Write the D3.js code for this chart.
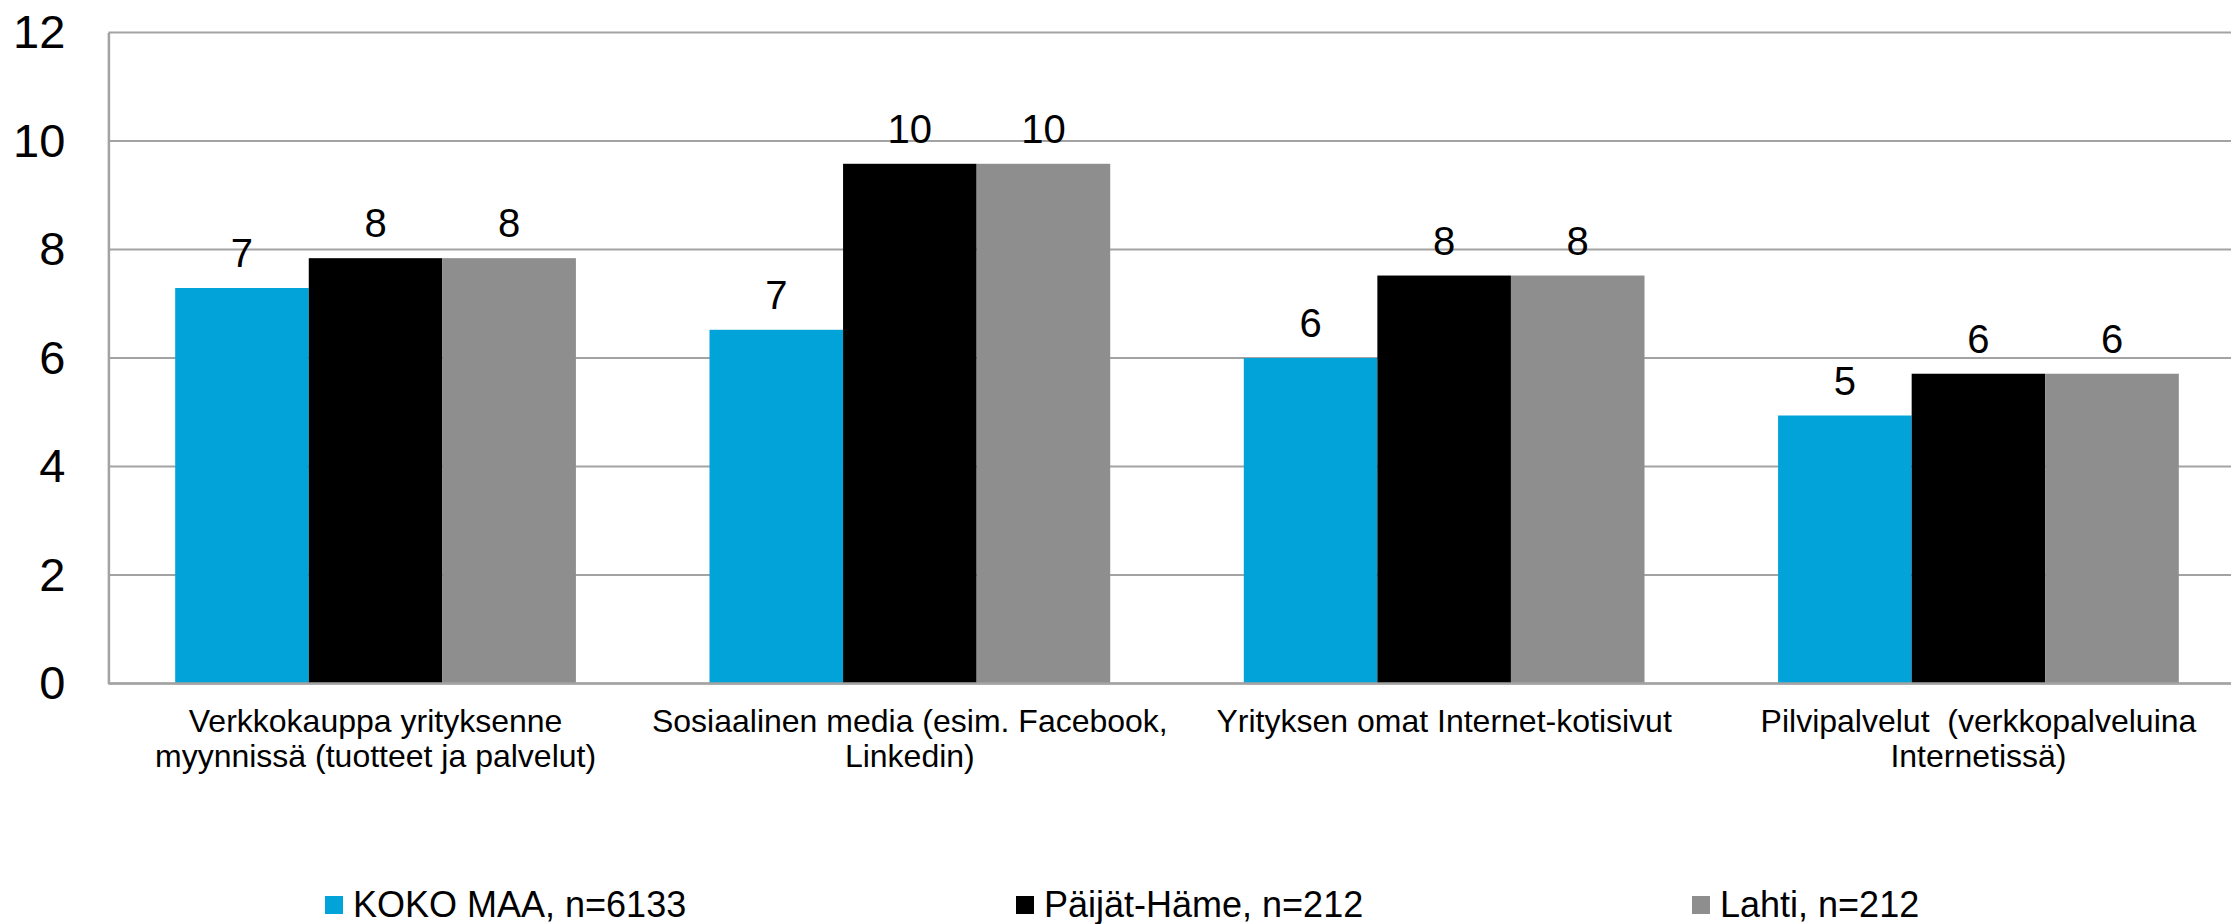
<!DOCTYPE html>
<html>
<head>
<meta charset="utf-8">
<script src="https://cdn.jsdelivr.net/npm/d3@7"></script>
<style>
    body { margin: 0; background: #ffffff; }
    #chart { width: 2231px; height: 924px; }
</style>
</head>
<body>
<div id="chart"></div>
<script>
// chart data
var categories = [
    ["Verkkokauppa yrityksenne", "myynnissä (tuotteet ja palvelut)"],
    ["Sosiaalinen media (esim. Facebook,", "Linkedin)"],
    ["Yrityksen omat Internet-kotisivut"],
    ["Pilvipalvelut  (verkkopalveluina", "Internetissä)"]
];
var seriesNames = ["KOKO MAA, n=6133", "Päijät-Häme, n=212", "Lahti, n=212"];
var kokoMaa = [7.29, 6.52, 6.00, 4.94];
var paijatHame = [7.84, 9.58, 7.52, 5.71];
var lahti = [7.84, 9.58, 7.52, 5.71];
var yTicks = [0, 2, 4, 6, 8, 10, 12];

(function () {

    var width = 2231,
        height = 924;
    var font = "'Liberation Sans', Arial, sans-serif";
    var colors = ["#02A3D9", "#000000", "#8E8E8E"];
    var gridColor = "#A3A3A3";

    // plot area (right side runs past the picture edge, like the original)
    var plot = { left: 108.4, right: 2245.6, top: 32.5, bottom: 683.5 };

    var seriesValues = [kokoMaa, paijatHame, lahti];
    var catIds = categories.map(function (d, i) { return i; });

    var svg = d3.select("#chart").append("svg")
        .attr("width", width)
        .attr("height", height);

    //scales
    var x0 = d3.scaleBand()
        .domain(catIds)
        .range([plot.left, plot.right])
        .padding(0);

    var x1 = d3.scaleBand()
        .domain(d3.range(seriesNames.length))
        .range([0, x0.bandwidth()])
        .paddingInner(0)
        .paddingOuter(0.5);

    var y = d3.scaleLinear()
        .domain([0, 12])
        .range([plot.bottom, plot.top]);

    // horizontal gridlines
    svg.append("g")
        .selectAll("line")
        .data(yTicks)
        .enter().append("line")
        .attr("x1", plot.left)
        .attr("x2", plot.right)
        .attr("y1", function (d) { return y(d); })
        .attr("y2", function (d) { return y(d); })
        .attr("stroke", gridColor)
        .attr("stroke-width", 2);

    // y axis with labels
    var yAxis = d3.axisLeft(y)
        .tickValues(yTicks)
        .tickSize(0)
        .tickPadding(43);

    var gy = svg.append("g")
        .attr("transform", "translate(" + plot.left + ",0)")
        .call(yAxis);
    gy.select(".domain")
        .attr("stroke", gridColor)
        .attr("stroke-width", 2.5);
    gy.selectAll("text")
        .style("font-size", "47px")
        .style("font-family", font)
        .style("fill", "#000000");

    // bars
    var rows = [];
    catIds.forEach(function (c) {
        seriesValues.forEach(function (vals, s) {
            rows.push({ cat: c, series: s, value: vals[c] });
        });
    });

    svg.append("g")
        .selectAll("rect")
        .data(rows)
        .enter().append("rect")
        .attr("x", function (d) { return x0(d.cat) + x1(d.series); })
        .attr("y", function (d) { return y(d.value); })
        .attr("width", x1.bandwidth())
        .attr("height", function (d) { return y(0) - y(d.value); })
        .attr("fill", function (d) { return colors[d.series]; });

    // value labels
    svg.append("g")
        .selectAll("text")
        .data(rows)
        .enter().append("text")
        .attr("x", function (d) { return x0(d.cat) + x1(d.series) + x1.bandwidth() / 2; })
        .attr("y", function (d) { return y(d.value) - 21; })
        .attr("text-anchor", "middle")
        .style("font-size", "40px")
        .style("font-family", font)
        .style("fill", "#000000")
        .text(function (d) { return Math.round(d.value); });

    // bottom axis line
    svg.append("line")
        .attr("x1", plot.left)
        .attr("x2", plot.right)
        .attr("y1", y(0))
        .attr("y2", y(0))
        .attr("stroke", gridColor)
        .attr("stroke-width", 2.5);

    // category labels (wrapped by hand like the original)
    var catText = svg.append("g")
        .selectAll("text")
        .data(categories)
        .enter().append("text")
        .attr("x", function (d, i) { return x0(i) + x0.bandwidth() / 2; })
        .attr("y", 731.7)
        .attr("text-anchor", "middle")
        .style("font-size", "32px")
        .style("font-family", font)
        .style("fill", "#000000")
        .style("white-space", "pre");

    catText.selectAll("tspan")
        .data(function (d) { return d; })
        .enter().append("tspan")
        .attr("x", function () { return d3.select(this.parentNode).attr("x"); })
        .attr("dy", function (d, i) { return i == 0 ? 0 : 35.5; })
        .text(function (d) { return d; });

    // legend
    var legendX = [325, 1016, 1692];
    var legend = svg.append("g")
        .selectAll("g")
        .data(seriesNames)
        .enter().append("g")
        .attr("transform", function (d, i) { return "translate(" + legendX[i] + ",0)"; });

    legend.append("rect")
        .attr("x", 0)
        .attr("y", 896)
        .attr("width", 18)
        .attr("height", 18)
        .attr("fill", function (d, i) { return colors[i]; });

    legend.append("text")
        .attr("x", 28)
        .attr("y", 916.5)
        .style("font-size", "36px")
        .style("font-family", font)
        .style("fill", "#000000")
        .text(function (d) { return d; });

})();
</script>
</body>
</html>
